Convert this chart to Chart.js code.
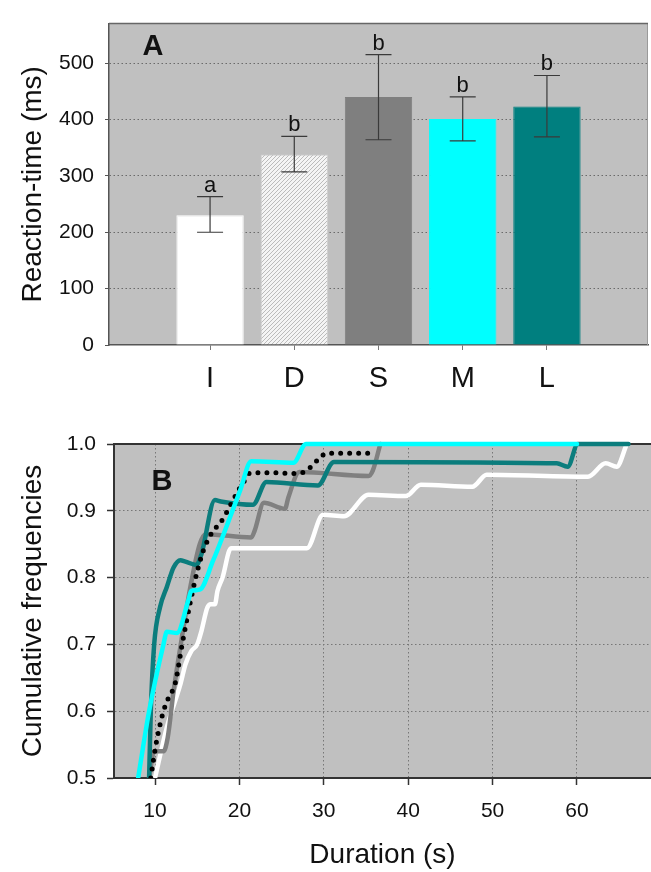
<!DOCTYPE html>
<html>
<head>
<meta charset="utf-8">
<script src="https://cdn.jsdelivr.net/npm/chart.js@4.4.0/dist/chart.umd.min.js"></script>
<style>
  body { margin: 0; background: #fff; }
  #wrapA { position: absolute; left: 0; top: 0; width: 651px; height: 420px; }
  #wrapB { position: absolute; left: 0; top: 420px; width: 651px; height: 452px; }
</style>
</head>
<body>
<div id="wrapA"><canvas id="chartA" width="651" height="420"></canvas></div>
<div id="wrapB"><canvas id="chartB" width="651" height="452"></canvas></div>
<script>
// ---- panel A : mean reaction time per group ----
var groups = ['I', 'D', 'S', 'M', 'L'];
var groupPos = [1, 2, 3, 4, 5];
var meanRT = [230, 338, 440, 401, 423];
var errLow = [200, 307, 364, 362, 369];
var errHigh = [263, 370, 515, 440, 478];
var sigLetters = ['a', 'b', 'b', 'b', 'b'];
var rtTicks = [0, 100, 200, 300, 400, 500];

// ---- panel B : cumulative frequencies of duration ----
var durTicks = [10, 20, 30, 40, 50, 60];
var freqTicks = [0.5, 0.6, 0.7, 0.8, 0.9, 1.0];

var mDur  = [8.0, 9.3, 11.0, 11.4, 12.6, 13.95, 14.3, 15.3, 16.9, 20.1, 21.4, 26.4, 27.9, 60.0];
var mFreq = [0.50, 0.60, 0.70, 0.719, 0.717, 0.766, 0.78, 0.782, 0.826, 0.931, 0.974, 0.972, 1.0, 1.0];

var dDur  = [9.5, 9.8, 10.2, 10.6, 11.0, 11.4, 11.6, 12.4, 13.2, 14.5, 15.5, 16.5, 18.0, 19.9, 20.6, 21.2, 23.5, 26.3, 27.7, 28.4, 29.5, 30.3, 36.1];
var dFreq = [0.50, 0.526, 0.556, 0.58, 0.60, 0.614, 0.62, 0.642, 0.699, 0.782, 0.832, 0.862, 0.887, 0.931, 0.945, 0.956, 0.957, 0.956, 0.958, 0.965, 0.979, 0.986, 0.986];

var lDur  = [9.3, 9.5, 9.9, 10.6, 11.4, 12.2, 13.0, 13.6, 14.9, 15.5, 17.1, 17.8, 21.6, 23.2, 29.3, 31.2, 57.6, 58.9, 60.1, 66.1];
var lFreq = [0.50, 0.60, 0.70, 0.756, 0.786, 0.815, 0.826, 0.824, 0.819, 0.835, 0.916, 0.914, 0.909, 0.943, 0.938, 0.973, 0.971, 0.966, 1.0, 1.0];

var sDur  = [9.3, 9.9, 11.0, 11.5, 12.2, 13.0, 14.25, 15.3, 16.0, 21.4, 21.8, 22.9, 25.4, 25.8, 27.1, 35.3, 35.8, 36.7];
var sFreq = [0.50, 0.54, 0.54, 0.56, 0.63, 0.696, 0.79, 0.85, 0.865, 0.86, 0.87, 0.912, 0.903, 0.92, 0.958, 0.952, 0.96, 1.0];

var iDur  = [10.0, 11.4, 13.0, 13.6, 14.3, 15.0, 15.5, 16.2, 16.6, 17.1, 17.4, 18.0, 19.0, 28.0, 29.9, 32.4, 35.3, 39.7, 41.5, 47.6, 49.3, 61.3, 63.4, 64.7, 65.9];
var iFreq = [0.50, 0.576, 0.64, 0.67, 0.69, 0.70, 0.72, 0.755, 0.76, 0.76, 0.78, 0.80, 0.844, 0.844, 0.894, 0.892, 0.924, 0.922, 0.939, 0.936, 0.954, 0.951, 0.971, 0.966, 1.0];

var FONT = 'Liberation Sans, Arial, Helvetica, sans-serif';

function pts(xs, ys) {
  return xs.map(function (x, i) { return { x: x, y: ys[i] }; });
}

// white bar with light grey diagonal hatching for group D
function hatch() {
  var c = document.createElement('canvas');
  c.width = 4; c.height = 4;
  var g = c.getContext('2d');
  g.fillStyle = '#f4f4f4';
  g.fillRect(0, 0, 4, 4);
  g.strokeStyle = '#b4b4b4';
  g.lineWidth = 0.9;
  g.beginPath();
  g.moveTo(-1, 5); g.lineTo(5, -1);
  g.moveTo(-1, 1); g.lineTo(1, -1);
  g.moveTo(3, 5); g.lineTo(5, 3);
  g.stroke();
  return g.createPattern(c, 'repeat');
}

var frameA = {
  id: 'frameA',
  beforeDraw: function (chart) {
    var a = chart.chartArea, ctx = chart.ctx;
    ctx.save();
    ctx.fillStyle = '#c0c0c0';
    ctx.fillRect(a.left, a.top, a.right - a.left, a.bottom - a.top);
    ctx.restore();
  },
  beforeDatasetsDraw: function (chart) {
    var a = chart.chartArea, ctx = chart.ctx;
    ctx.save();
    ctx.strokeStyle = '#9a9a9a';
    ctx.lineWidth = 1;
    ctx.beginPath();
    ctx.moveTo(a.right - 0.5, a.top); ctx.lineTo(a.right - 0.5, a.bottom);
    ctx.stroke();
    ctx.strokeStyle = '#666';
    ctx.lineWidth = 1.5;
    ctx.beginPath();
    ctx.moveTo(a.left, a.top); ctx.lineTo(a.right, a.top);
    ctx.stroke();
    ctx.restore();
  },
  afterDatasetsDraw: function (chart) {
    var ctx = chart.ctx, ys = chart.scales.y;
    var bars = chart.getDatasetMeta(0).data;
    ctx.save();
    ctx.strokeStyle = '#3a3a3a';
    ctx.lineWidth = 1.2;
    ctx.fillStyle = '#111';
    ctx.font = '22px ' + FONT;
    ctx.textAlign = 'center';
    ctx.textBaseline = 'alphabetic';
    bars.forEach(function (bar, i) {
      var x = bar.x;
      var yt = ys.getPixelForValue(errHigh[i]);
      var yb = ys.getPixelForValue(errLow[i]);
      ctx.beginPath();
      ctx.moveTo(x, yt); ctx.lineTo(x, yb);
      ctx.moveTo(x - 13, yt); ctx.lineTo(x + 13, yt);
      ctx.moveTo(x - 13, yb); ctx.lineTo(x + 13, yb);
      ctx.stroke();
      ctx.fillText(sigLetters[i], x, yt - 5);
    });
    ctx.font = 'bold 29px ' + FONT;
    ctx.textBaseline = 'middle';
    ctx.fillText('A', chart.chartArea.left + 44, chart.chartArea.top + 23);
    ctx.restore();
  }
};

new Chart(document.getElementById('chartA'), {
  type: 'bar',
  data: {
    datasets: [{
      data: pts(groupPos, meanRT),
      backgroundColor: ['#ffffff', hatch(), '#7f7f7f', '#00ffff', '#007f7f'],
      borderColor: ['#ffffff', '#d0d0d0', '#7f7f7f', '#00ffff', '#007f7f'],
      borderWidth: 1,
      categoryPercentage: 0.8,
      barPercentage: 1.0
    }]
  },
  options: {
    responsive: false,
    animation: false,
    layout: { padding: { top: 10, right: 3, left: 0, bottom: 0 } },
    plugins: { legend: { display: false }, tooltip: { enabled: false } },
    scales: {
      x: {
        type: 'linear', min: -0.2, max: 6.2, offset: false,
        afterBuildTicks: function (s) { s.ticks = groupPos.map(function (v) { return { value: v }; }); },
        afterFit: function (s) { s.height = 75; },
        grid: { offset: false, drawOnChartArea: false, drawTicks: true, tickLength: 5, tickColor: '#777' },
        border: { display: true, color: '#555', width: 1.5 },
        ticks: {
          autoSkip: false, maxRotation: 0, padding: 12, color: '#111',
          font: { family: FONT, size: 29 },
          callback: function (v) { return groups[groupPos.indexOf(v)]; }
        }
      },
      y: {
        min: 0, max: 570,
        afterBuildTicks: function (s) { s.ticks = rtTicks.map(function (v) { return { value: v }; }); },
        afterFit: function (s) { s.width = 109; },
        grid: {
          color: function (c) { return c.tick && c.tick.value > 0 ? '#6a6a6a' : 'rgba(0,0,0,0)'; },
          lineWidth: 1, tickLength: 4, tickColor: '#555'
        },
        border: { display: true, color: '#555', width: 1.5, dash: [1.5, 2.5] },
        ticks: { padding: 11, color: '#111', font: { family: FONT, size: 21 } },
        title: {
          display: true, text: 'Reaction-time (ms)', color: '#111',
          font: { family: FONT, size: 28 }, padding: { top: 16, bottom: 0 }
        }
      }
    }
  },
  plugins: [frameA]
});

var frameB = {
  id: 'frameB',
  beforeDraw: function (chart) {
    var a = chart.chartArea, ctx = chart.ctx;
    ctx.save();
    ctx.fillStyle = '#c0c0c0';
    ctx.fillRect(a.left, a.top, a.right - a.left, a.bottom - a.top);
    ctx.restore();
  },
  beforeDatasetsDraw: function (chart) {
    var a = chart.chartArea, ctx = chart.ctx;
    ctx.save();
    ctx.strokeStyle = '#333';
    ctx.lineWidth = 2;
    ctx.beginPath();
    ctx.moveTo(a.left, a.top); ctx.lineTo(a.right, a.top);
    ctx.stroke();
    ctx.restore();
  },
  afterDraw: function (chart) {
    var ctx = chart.ctx;
    ctx.save();
    ctx.fillStyle = '#111';
    ctx.font = 'bold 29px ' + FONT;
    ctx.textAlign = 'center';
    ctx.textBaseline = 'middle';
    ctx.fillText('B', chart.chartArea.left + 48, chart.chartArea.top + 38);
    ctx.restore();
  }
};

function curve(xs, ys, color, width, dash) {
  return {
    data: pts(xs, ys),
    borderColor: color,
    borderWidth: width,
    borderDash: dash || [],
    borderCapStyle: 'round',
    borderJoinStyle: 'round',
    pointRadius: 0,
    fill: false,
    cubicInterpolationMode: 'monotone',
    clip: { left: 0, top: 4, right: 4, bottom: 0 }
  };
}

new Chart(document.getElementById('chartB'), {
  type: 'line',
  data: {
    datasets: [
      curve(mDur, mFreq, '#00ffff', 4.5),
      curve(dDur, dFreq, '#000000', 5, [0, 9]),
      curve(lDur, lFreq, '#0b7d7d', 4.5),
      curve(sDur, sFreq, '#808080', 4.5),
      curve(iDur, iFreq, '#ffffff', 4.5)
    ]
  },
  options: {
    responsive: false,
    animation: false,
    layout: { padding: { top: 24, right: 0, left: 0, bottom: 0 } },
    plugins: { legend: { display: false }, tooltip: { enabled: false } },
    scales: {
      x: {
        type: 'linear', min: 5.14, max: 68.77,
        afterBuildTicks: function (s) { s.ticks = durTicks.map(function (v) { return { value: v }; }); },
        afterFit: function (s) { s.height = 94; },
        grid: { color: '#777', lineWidth: 1, tickLength: 7, tickColor: '#333', tickWidth: 1.5 },
        border: { display: true, color: '#333', width: 2, dash: [1.5, 2.5] },
        ticks: { padding: 14, color: '#111', font: { family: FONT, size: 21 } },
        title: {
          display: true, text: 'Duration (s)', color: '#111',
          font: { family: FONT, size: 28 }, padding: { top: 0, bottom: 0 }
        }
      },
      y: {
        min: 0.5, max: 1.0,
        afterBuildTicks: function (s) { s.ticks = freqTicks.map(function (v) { return { value: v }; }); },
        afterFit: function (s) { s.width = 114; },
        grid: {
          color: function (c) {
            var v = c.tick ? c.tick.value : 0;
            return v > 0.55 && v < 0.95 ? '#777' : 'rgba(0,0,0,0)';
          },
          lineWidth: 1, tickLength: 7, tickColor: '#333', tickWidth: 1.5
        },
        border: { display: true, color: '#333', width: 2, dash: [1.5, 2.5] },
        ticks: {
          padding: 11, color: '#111', font: { family: FONT, size: 21 },
          callback: function (v) { return v.toFixed(1); }
        },
        title: {
          display: true, text: 'Cumulative frequencies', color: '#111',
          font: { family: FONT, size: 28 }, padding: { top: 16, bottom: 0 }
        }
      }
    }
  },
  plugins: [frameB]
});
</script>
</body>
</html>
